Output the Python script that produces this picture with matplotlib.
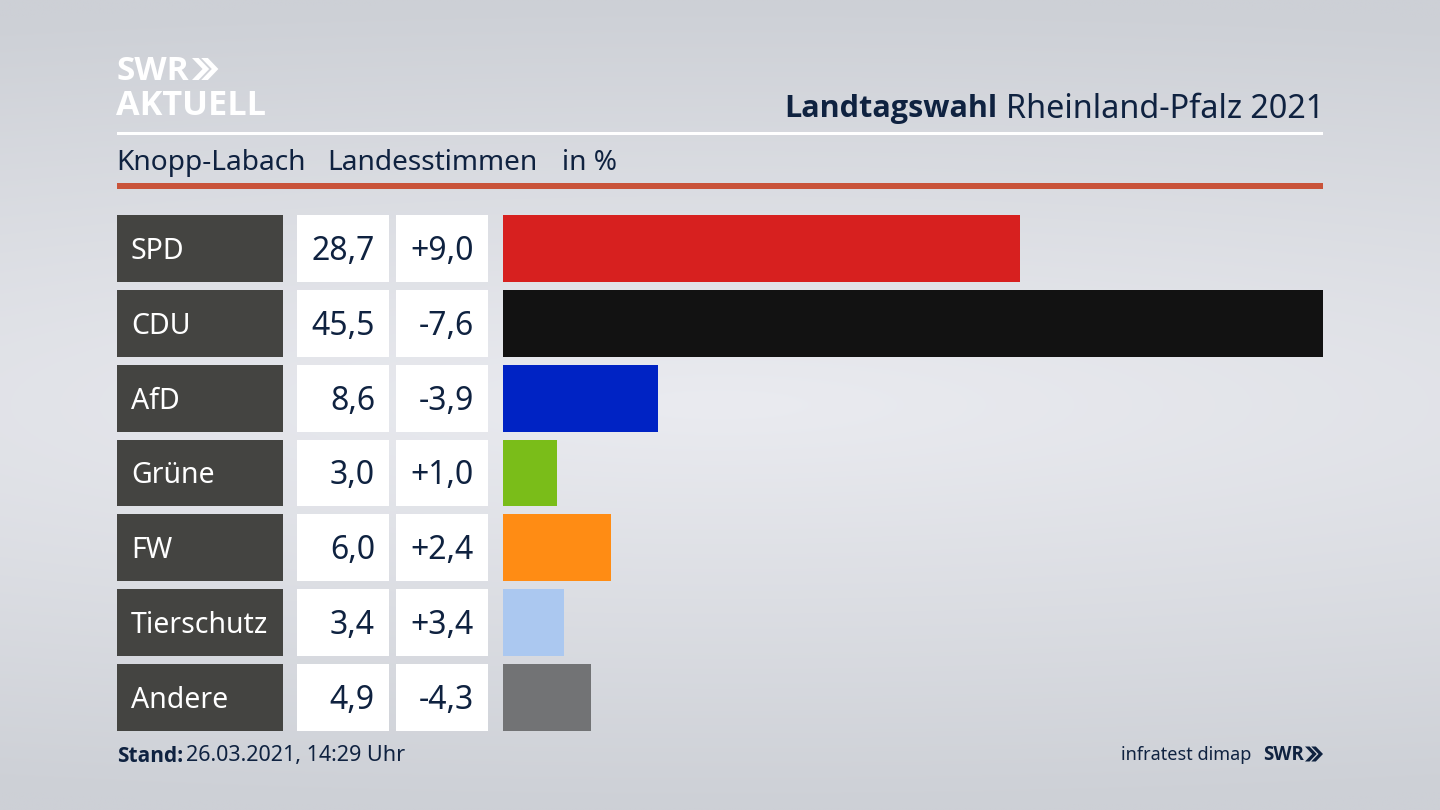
import numpy as np
import matplotlib
matplotlib.use('Agg')
import matplotlib.pyplot as plt

parties = ['SPD', 'CDU', 'AfD', 'Grüne', 'FW', 'Tierschutz', 'Andere']
shares = [28.7, 45.5, 8.6, 3.0, 6.0, 3.4, 4.9]
changes = [9.0, -7.6, -3.9, 1.0, 2.4, 3.4, -4.3]
colors = ['#d7201f', '#121212', '#0023c4', '#7abd19', '#ff8c14', '#abc8f0', '#727375']

W, H = 1440, 810
NAVY = '#0f2240'
FONT = 'Noto Sans'
BOLD = 'Open Sans'
plt.rcParams['font.family'] = FONT


def px_axes(fig, x0, x1, y0, y1):
    # axes from pixel positions, y counted from the top
    return fig.add_axes([x0 / W, 1 - y1 / H, (x1 - x0) / W, (y1 - y0) / H])


def fmt(val, signed=False):
    s = f'{val:+.1f}' if signed else f'{val:.1f}'
    return s.replace('.', ',')


def chevrons(ax, x, y, size, color):
    # the two arrows of the SWR logo
    thick, depth = 0.3 * size, 0.48 * size
    for k in range(2):
        x0 = x + k * size * 0.42
        ax.fill([x0, x0 + thick, x0 + thick + depth, x0 + thick, x0, x0 + depth],
                [y - size / 2, y - size / 2, y, y + size / 2, y + size / 2, y],
                color=color, lw=0)


fig = plt.figure(figsize=(14.4, 8.1), dpi=100)

# background
bg = px_axes(fig, 0, W, 0, H)
yy, xx = np.mgrid[0:1:200j, 0:1:356j]
dist = np.sqrt(((xx - 0.5) * 0.3) ** 2 + ((yy - 0.5) * 1.0) ** 2) / 0.5
dist = np.clip(dist, 0, 1)
c_in = np.array([234, 235, 240]) / 255
c_out = np.array([205, 208, 214]) / 255
img = c_in + (c_out - c_in) * dist[..., None]
bg.imshow(img, extent=(0, W, H, 0), aspect='auto', interpolation='bilinear')
bg.set_xlim(0, W)
bg.set_ylim(H, 0)
bg.axis('off')

# header
bg.fill_between([117, 1323], 132, 135, color='white', lw=0)
bg.fill_between([117, 1323], 183, 189, color='#c9533a', lw=0)
bg.text(117, 72, 'SWR', color='white', fontsize=24, family=BOLD, fontweight='bold', va='center', ha='left')
chevrons(bg, 192, 69, 22, 'white')
bg.text(116, 106, 'AKTUELL', color='white', fontsize=24.7, family=BOLD, fontweight='bold', va='center', ha='left')

t = bg.text(1324, 109, 'Rheinland-Pfalz 2021', color=NAVY, fontsize=23.3, va='center', ha='right')
fig.canvas.draw()
bb = t.get_window_extent()
bg.text(bb.x0 - 8, 109, 'Landtagswahl', color=NAVY, fontsize=22.1, family=BOLD, fontweight='bold', va='center', ha='right')

bg.text(116, 163, 'Knopp-Labach', color=NAVY, fontsize=20.2, va='center', ha='left')
bg.text(327, 163, 'Landesstimmen', color=NAVY, fontsize=20.2, va='center', ha='left')
bg.text(562, 163, 'in %', color=NAVY, fontsize=20.2, va='center', ha='left')

# rows
rows = np.arange(len(parties))
bar_h = 0.893
ylim = (len(parties) - 1 + bar_h / 2, -bar_h / 2)
top, bottom = 215, 731
text_off = 0.04

ax_lab = px_axes(fig, 117, 283, top, bottom)
ax_val = px_axes(fig, 297, 389, top, bottom)
ax_chg = px_axes(fig, 396, 488, top, bottom)
ax_bar = px_axes(fig, 502.5, 1323, top, bottom)

ax_lab.barh(rows, [1] * len(rows), height=bar_h, color='#444441')
ax_val.barh(rows, [1] * len(rows), height=bar_h, color='white')
ax_chg.barh(rows, [1] * len(rows), height=bar_h, color='white')
ax_bar.barh(rows, shares, height=bar_h, color=colors)

for ax in (ax_lab, ax_val, ax_chg):
    ax.set_xlim(0, 1)
ax_bar.set_xlim(0, max(shares))
for ax in (ax_lab, ax_val, ax_chg, ax_bar):
    ax.set_ylim(*ylim)
    ax.axis('off')

for i in rows:
    ax_lab.text(14 / 166, i + text_off, parties[i], color='white', fontsize=20.5, va='center', ha='left')
    ax_val.text(1 - 14 / 92, i + text_off, fmt(shares[i]), color=NAVY, fontsize=23, va='center', ha='right')
    ax_chg.text(1 - 14 / 92, i + text_off, fmt(changes[i], signed=True), color=NAVY, fontsize=23, va='center', ha='right')

# footer
bg.text(117, 756, 'Stand:', color=NAVY, fontsize=15, family=BOLD, fontweight='bold', va='center', ha='left')
bg.text(186, 756, '26.03.2021, 14:29 Uhr', color=NAVY, fontsize=15.5, va='center', ha='left')
bg.text(1251, 755, 'infratest dimap', color=NAVY, fontsize=13, va='center', ha='right')
bg.text(1263, 755, 'SWR', color=NAVY, fontsize=13.5, family=BOLD, fontweight='bold', va='center', ha='left')
chevrons(bg, 1305, 754, 15, NAVY)

fig.savefig('out.png', dpi=100)
